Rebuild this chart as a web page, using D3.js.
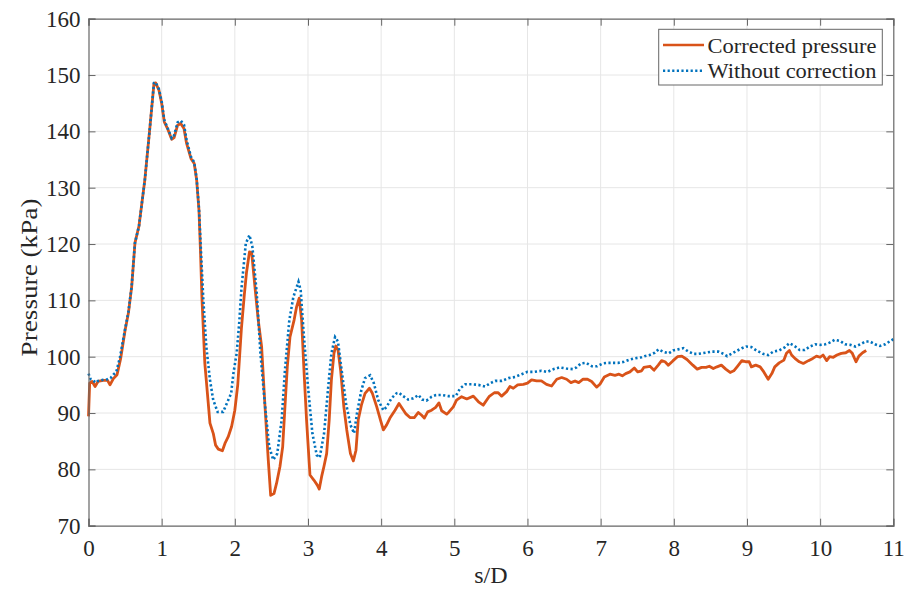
<!DOCTYPE html>
<html>
<head>
<meta charset="utf-8">
<script src="https://cdn.jsdelivr.net/npm/d3@7"></script>
<style>
  html, body { margin: 0; padding: 0; background: #fff; }
  svg { display: block; }
</style>
</head>
<body>
<svg id="chart" width="908" height="590"></svg>
<script>
// Axis tick values
const xTicks = [0, 1, 2, 3, 4, 5, 6, 7, 8, 9, 10, 11];
const yTicks = [70, 80, 90, 100, 110, 120, 130, 140, 150, 160];

// Corrected pressure: s/D positions and pressures (kPa)
const correctedS = [0, 0.016, 0.05, 0.09, 0.13, 0.2, 0.26, 0.294, 0.34, 0.39, 0.44, 0.5, 0.545, 0.59, 0.635, 0.69, 0.77, 0.84, 0.895, 0.918, 0.963, 1.0, 1.036, 1.08, 1.137, 1.17, 1.218, 1.26, 1.305, 1.34, 1.40, 1.445, 1.478, 1.51, 1.53, 1.55, 1.59, 1.637, 1.66, 1.705, 1.737, 1.774, 1.83, 1.865, 1.91, 1.956, 2.0, 2.04, 2.09, 2.13, 2.16, 2.2, 2.23, 2.275, 2.32, 2.366, 2.41, 2.457, 2.49, 2.535, 2.57, 2.617, 2.654, 2.685, 2.717, 2.754, 2.81, 2.845, 2.88, 2.913, 2.945, 2.98, 3.027, 3.08, 3.127, 3.154, 3.186, 3.218, 3.255, 3.29, 3.32, 3.355, 3.38, 3.41, 3.446, 3.49, 3.53, 3.58, 3.62, 3.656, 3.687, 3.73, 3.78, 3.84, 3.88, 3.94, 3.99, 4.03, 4.075, 4.12, 4.19, 4.244, 4.289, 4.335, 4.394, 4.453, 4.508, 4.554, 4.59, 4.636, 4.69, 4.745, 4.79, 4.827, 4.895, 4.927, 4.986, 5.03, 5.1, 5.17, 5.26, 5.33, 5.395, 5.474, 5.546, 5.6, 5.647, 5.715, 5.76, 5.806, 5.866, 5.943, 6.0, 6.056, 6.125, 6.19, 6.26, 6.33, 6.4, 6.467, 6.535, 6.594, 6.65, 6.7, 6.76, 6.82, 6.877, 6.945, 6.99, 7.05, 7.127, 7.196, 7.25, 7.296, 7.342, 7.4, 7.46, 7.506, 7.56, 7.59, 7.674, 7.73, 7.787, 7.833, 7.88, 7.925, 7.99, 8.05, 8.11, 8.18, 8.26, 8.32, 8.38, 8.44, 8.485, 8.54, 8.59, 8.65, 8.71, 8.77, 8.82, 8.87, 8.93, 8.99, 9.03, 9.06, 9.12, 9.18, 9.23, 9.29, 9.34, 9.38, 9.44, 9.505, 9.54, 9.58, 9.61, 9.655, 9.715, 9.77, 9.84, 9.9, 9.95, 10.0, 10.04, 10.09, 10.13, 10.18, 10.23, 10.29, 10.35, 10.4, 10.44, 10.49, 10.53, 10.58, 10.63];
const correctedP = [89.4, 95.3, 95.6, 94.7, 95.6, 95.8, 95.8, 95.0, 96.1, 96.8, 99.7, 104.7, 107.7, 112.4, 120.2, 123.2, 131.4, 140.8, 148.5, 148.6, 147.3, 145.0, 141.7, 140.5, 138.6, 138.9, 141.1, 141.4, 140.5, 137.9, 135.2, 134.3, 131.4, 126.0, 119.0, 110.6, 98.8, 91.7, 88.2, 86.4, 84.3, 83.6, 83.3, 84.6, 85.8, 87.6, 90.5, 95.0, 105.0, 111.0, 115.0, 118.6, 118.5, 112.4, 106.5, 101.8, 91.7, 81.7, 75.4, 75.7, 77.5, 80.5, 84.0, 91.1, 98.2, 103.5, 106.5, 108.9, 110.4, 106.5, 97.6, 88.8, 79.0, 78.1, 77.2, 76.5, 78.7, 80.5, 82.8, 88.8, 95.9, 100.6, 101.9, 101.2, 97.6, 91.1, 87.0, 82.8, 81.5, 83.4, 88.8, 91.4, 93.5, 94.4, 93.5, 91.1, 88.8, 87.0, 87.9, 89.1, 90.5, 91.7, 90.8, 89.9, 89.2, 89.2, 90.1, 89.6, 89.1, 90.2, 90.5, 91.0, 91.8, 90.4, 89.8, 90.2, 91.1, 92.3, 92.9, 92.5, 93.0, 92.0, 91.4, 92.9, 93.6, 93.6, 93.0, 93.8, 94.7, 94.4, 95.0, 95.1, 95.3, 95.9, 95.7, 95.7, 95.1, 94.8, 96.0, 96.3, 96.0, 95.4, 95.7, 95.4, 96.0, 96.0, 95.6, 94.6, 95.1, 96.4, 96.9, 96.7, 96.9, 96.6, 97.0, 97.3, 98.0, 97.3, 97.5, 98.1, 98.3, 97.6, 98.5, 99.3, 99.1, 98.5, 99.3, 100.0, 100.1, 99.5, 98.5, 97.8, 98.1, 98.1, 98.3, 97.9, 98.2, 98.5, 97.8, 97.2, 97.5, 98.3, 99.3, 99.1, 99.1, 98.2, 98.5, 98.2, 97.3, 96.0, 97.0, 98.2, 98.9, 99.4, 100.6, 101.1, 100.3, 99.7, 99.1, 98.8, 99.3, 99.7, 100.1, 99.9, 100.3, 99.3, 100.0, 99.9, 100.3, 100.6, 100.7, 101.1, 100.6, 99.1, 100.1, 100.7, 101.1];

// Uncorrected pressure: s/D positions and pressures (kPa)
const rawS = [0, 0.03, 0.06, 0.1, 0.13, 0.2, 0.26, 0.3, 0.34, 0.38, 0.43, 0.5, 0.545, 0.59, 0.635, 0.69, 0.77, 0.84, 0.895, 0.918, 0.963, 1.0, 1.036, 1.08, 1.137, 1.17, 1.218, 1.26, 1.305, 1.34, 1.40, 1.445, 1.478, 1.51, 1.54, 1.57, 1.61, 1.66, 1.705, 1.765, 1.84, 1.91, 1.95, 1.98, 2.025, 2.06, 2.09, 2.15, 2.2, 2.24, 2.3, 2.35, 2.41, 2.47, 2.525, 2.58, 2.64, 2.685, 2.745, 2.8, 2.87, 2.9, 2.945, 3.0, 3.06, 3.12, 3.16, 3.22, 3.277, 3.32, 3.37, 3.41, 3.46, 3.52, 3.58, 3.63, 3.67, 3.73, 3.78, 3.85, 3.9, 3.96, 4.03, 4.075, 4.14, 4.21, 4.244, 4.3, 4.37, 4.44, 4.51, 4.56, 4.62, 4.69, 4.75, 4.83, 4.92, 5.02, 5.08, 5.15, 5.24, 5.33, 5.42, 5.49, 5.56, 5.65, 5.74, 5.83, 5.92, 6.0, 6.09, 6.19, 6.27, 6.36, 6.44, 6.53, 6.62, 6.67, 6.73, 6.8, 6.88, 6.95, 7.03, 7.09, 7.16, 7.24, 7.32, 7.4, 7.46, 7.56, 7.6, 7.67, 7.74, 7.79, 7.85, 7.93, 7.99, 8.06, 8.13, 8.2, 8.27, 8.33, 8.43, 8.52, 8.61, 8.68, 8.73, 8.8, 8.87, 8.93, 8.99, 9.06, 9.13, 9.22, 9.29, 9.36, 9.44, 9.52, 9.58, 9.65, 9.72, 9.79, 9.86, 9.93, 10.0, 10.07, 10.13, 10.2, 10.27, 10.34, 10.41, 10.48, 10.55, 10.62, 10.68, 10.75, 10.82, 10.89, 10.96, 11.0];
const rawP = [97.0, 96.0, 95.8, 95.4, 95.7, 95.9, 96.0, 96.2, 96.8, 97.3, 99.9, 104.9, 107.9, 112.5, 120.2, 123.2, 131.4, 140.8, 148.6, 148.7, 147.5, 145.3, 142.0, 140.6, 138.8, 139.3, 141.6, 141.9, 141.2, 138.5, 135.5, 134.5, 131.6, 126.3, 118.0, 110.0, 101.8, 95.9, 92.3, 90.2, 90.2, 92.3, 93.5, 97.0, 100.6, 106.0, 112.0, 120.1, 121.6, 119.5, 111.2, 100.6, 91.7, 84.0, 81.7, 82.8, 88.8, 97.6, 106.5, 110.6, 113.3, 111.8, 103.5, 94.7, 86.4, 82.5, 82.1, 86.4, 94.7, 100.6, 103.5, 102.7, 97.6, 91.7, 87.9, 86.4, 90.0, 94.1, 96.2, 96.7, 95.3, 92.3, 90.5, 91.1, 92.6, 93.5, 93.6, 93.0, 92.4, 92.6, 93.2, 92.4, 92.2, 92.9, 93.2, 93.2, 93.0, 93.0, 94.4, 95.1, 95.1, 95.0, 94.7, 95.3, 95.7, 95.7, 96.2, 96.4, 96.9, 97.3, 97.3, 97.5, 97.3, 97.8, 98.1, 97.9, 97.8, 98.1, 98.8, 98.9, 98.3, 98.3, 98.8, 98.9, 98.9, 98.9, 99.1, 99.5, 99.7, 99.9, 100.1, 100.3, 100.7, 101.3, 100.9, 100.6, 101.1, 101.3, 101.5, 100.9, 100.5, 100.5, 100.7, 100.9, 100.9, 100.5, 100.1, 100.6, 101.1, 101.5, 101.8, 101.7, 101.1, 100.5, 100.3, 100.9, 101.1, 101.7, 102.4, 101.9, 101.2, 101.2, 101.8, 102.2, 102.1, 102.2, 102.5, 103.0, 102.8, 102.2, 102.1, 101.8, 102.2, 102.7, 102.7, 102.2, 101.9, 102.2, 102.8, 103.1];

const seriesNames = ["Corrected pressure", "Without correction"];
const seriesColors = ["#d95319", "#0072bd"];

const svg = d3.select("#chart");
const W = 908, H = 590;
const margin = { left: 88.5, right: W - 893.3, top: 18.7, bottom: H - 525.7 };
const x0 = margin.left, x1 = W - margin.right, y0 = H - margin.bottom, y1 = margin.top;

const x = d3.scaleLinear().domain([0, 11]).range([x0, x1]);
const y = d3.scaleLinear().domain([70, 160]).range([y0, y1]);

const FONT = '"Liberation Serif"';
const textColor = "#262626";

// Grid
const grid = svg.append("g");
grid.selectAll("line.gx").data(xTicks.slice(1, -1)).join("line")
  .attr("x1", d => x(d)).attr("x2", d => x(d)).attr("y1", y0).attr("y2", y1)
  .attr("stroke", "#e6e6e6").attr("stroke-width", 1);
grid.selectAll("line.gy").data(yTicks.slice(1, -1)).join("line")
  .attr("x1", x0).attr("x2", x1).attr("y1", d => y(d)).attr("y2", d => y(d))
  .attr("stroke", "#e6e6e6").attr("stroke-width", 1);

// Curves
const lineGen = d3.line().x(d => x(d[0])).y(d => y(d[1]));
const correctedPts = correctedS.map((s, i) => [s, correctedP[i]]);
const rawPts = rawS.map((s, i) => [s, rawP[i]]);

const plot = svg.append("g");
plot.append("path").datum(correctedPts)
  .attr("d", lineGen).attr("fill", "none")
  .attr("stroke", seriesColors[0]).attr("stroke-width", 2.8)
  .attr("stroke-linejoin", "round");
plot.append("path").datum(rawPts)
  .attr("d", lineGen).attr("fill", "none")
  .attr("stroke", seriesColors[1]).attr("stroke-width", 2.6)
  .attr("stroke-dasharray", "2.2,2.4");

// Axes (ticks point inward, box on all sides)
const tickLen = 7;
const axisColor = "#666";
const gxB = svg.append("g").attr("transform", `translate(0,${y0})`)
  .call(d3.axisBottom(x).tickValues(xTicks).tickSize(-tickLen).tickPadding(14).tickFormat(d3.format("d")));
const gxT = svg.append("g").attr("transform", `translate(0,${y1})`)
  .call(d3.axisTop(x).tickValues(xTicks).tickSize(-tickLen).tickFormat(""));
const gyL = svg.append("g").attr("transform", `translate(${x0},0)`)
  .call(d3.axisLeft(y).tickValues(yTicks).tickSize(-tickLen).tickPadding(8).tickFormat(d3.format("d")));
const gyR = svg.append("g").attr("transform", `translate(${x1},0)`)
  .call(d3.axisRight(y).tickValues(yTicks).tickSize(-tickLen).tickFormat(""));

[gxB, gxT, gyL, gyR].forEach(g => {
  g.attr("font-family", FONT).attr("font-size", 23);
  g.select(".domain").attr("stroke", axisColor).attr("stroke-width", 1.2);
  g.selectAll(".tick line").attr("stroke", axisColor).attr("stroke-width", 1);
  g.selectAll(".tick text").attr("font-family", FONT).attr("font-size", 23).attr("fill", textColor);
});
gxB.selectAll(".tick text").attr("dy", "0.71em");

// Axis titles
svg.append("text").attr("x", (x0 + x1) / 2).attr("y", 583)
  .attr("font-family", FONT).attr("font-size", 24).attr("fill", textColor)
  .attr("text-anchor", "middle").text("s/D");
svg.append("text")
  .attr("transform", "translate(37,277.5) rotate(-90)")
  .attr("font-family", FONT).attr("font-size", 24).attr("fill", textColor)
  .attr("text-anchor", "middle")
  .attr("textLength", 158).attr("lengthAdjust", "spacingAndGlyphs")
  .text("Pressure (kPa)");

// Legend
const lg = svg.append("g");
lg.append("rect").attr("x", 658.7).attr("y", 29.3).attr("width", 223.6).attr("height", 55.7)
  .attr("fill", "#fff").attr("stroke", "#666").attr("stroke-width", 1);
seriesNames.forEach((name, i) => {
  const cy = 45 + i * 25.7;
  const l = lg.append("line").attr("x1", 663).attr("x2", 704).attr("y1", cy).attr("y2", cy)
    .attr("stroke", seriesColors[i]).attr("stroke-width", 2.6);
  if (i === 1) l.attr("stroke-dasharray", "2.2,2.4");
  lg.append("text").attr("x", 707.5).attr("y", cy).attr("dy", "0.35em")
    .attr("font-family", FONT).attr("font-size", 22).attr("fill", textColor)
    .attr("textLength", 169).attr("lengthAdjust", "spacingAndGlyphs")
    .text(name);
});
</script>
</body>
</html>
